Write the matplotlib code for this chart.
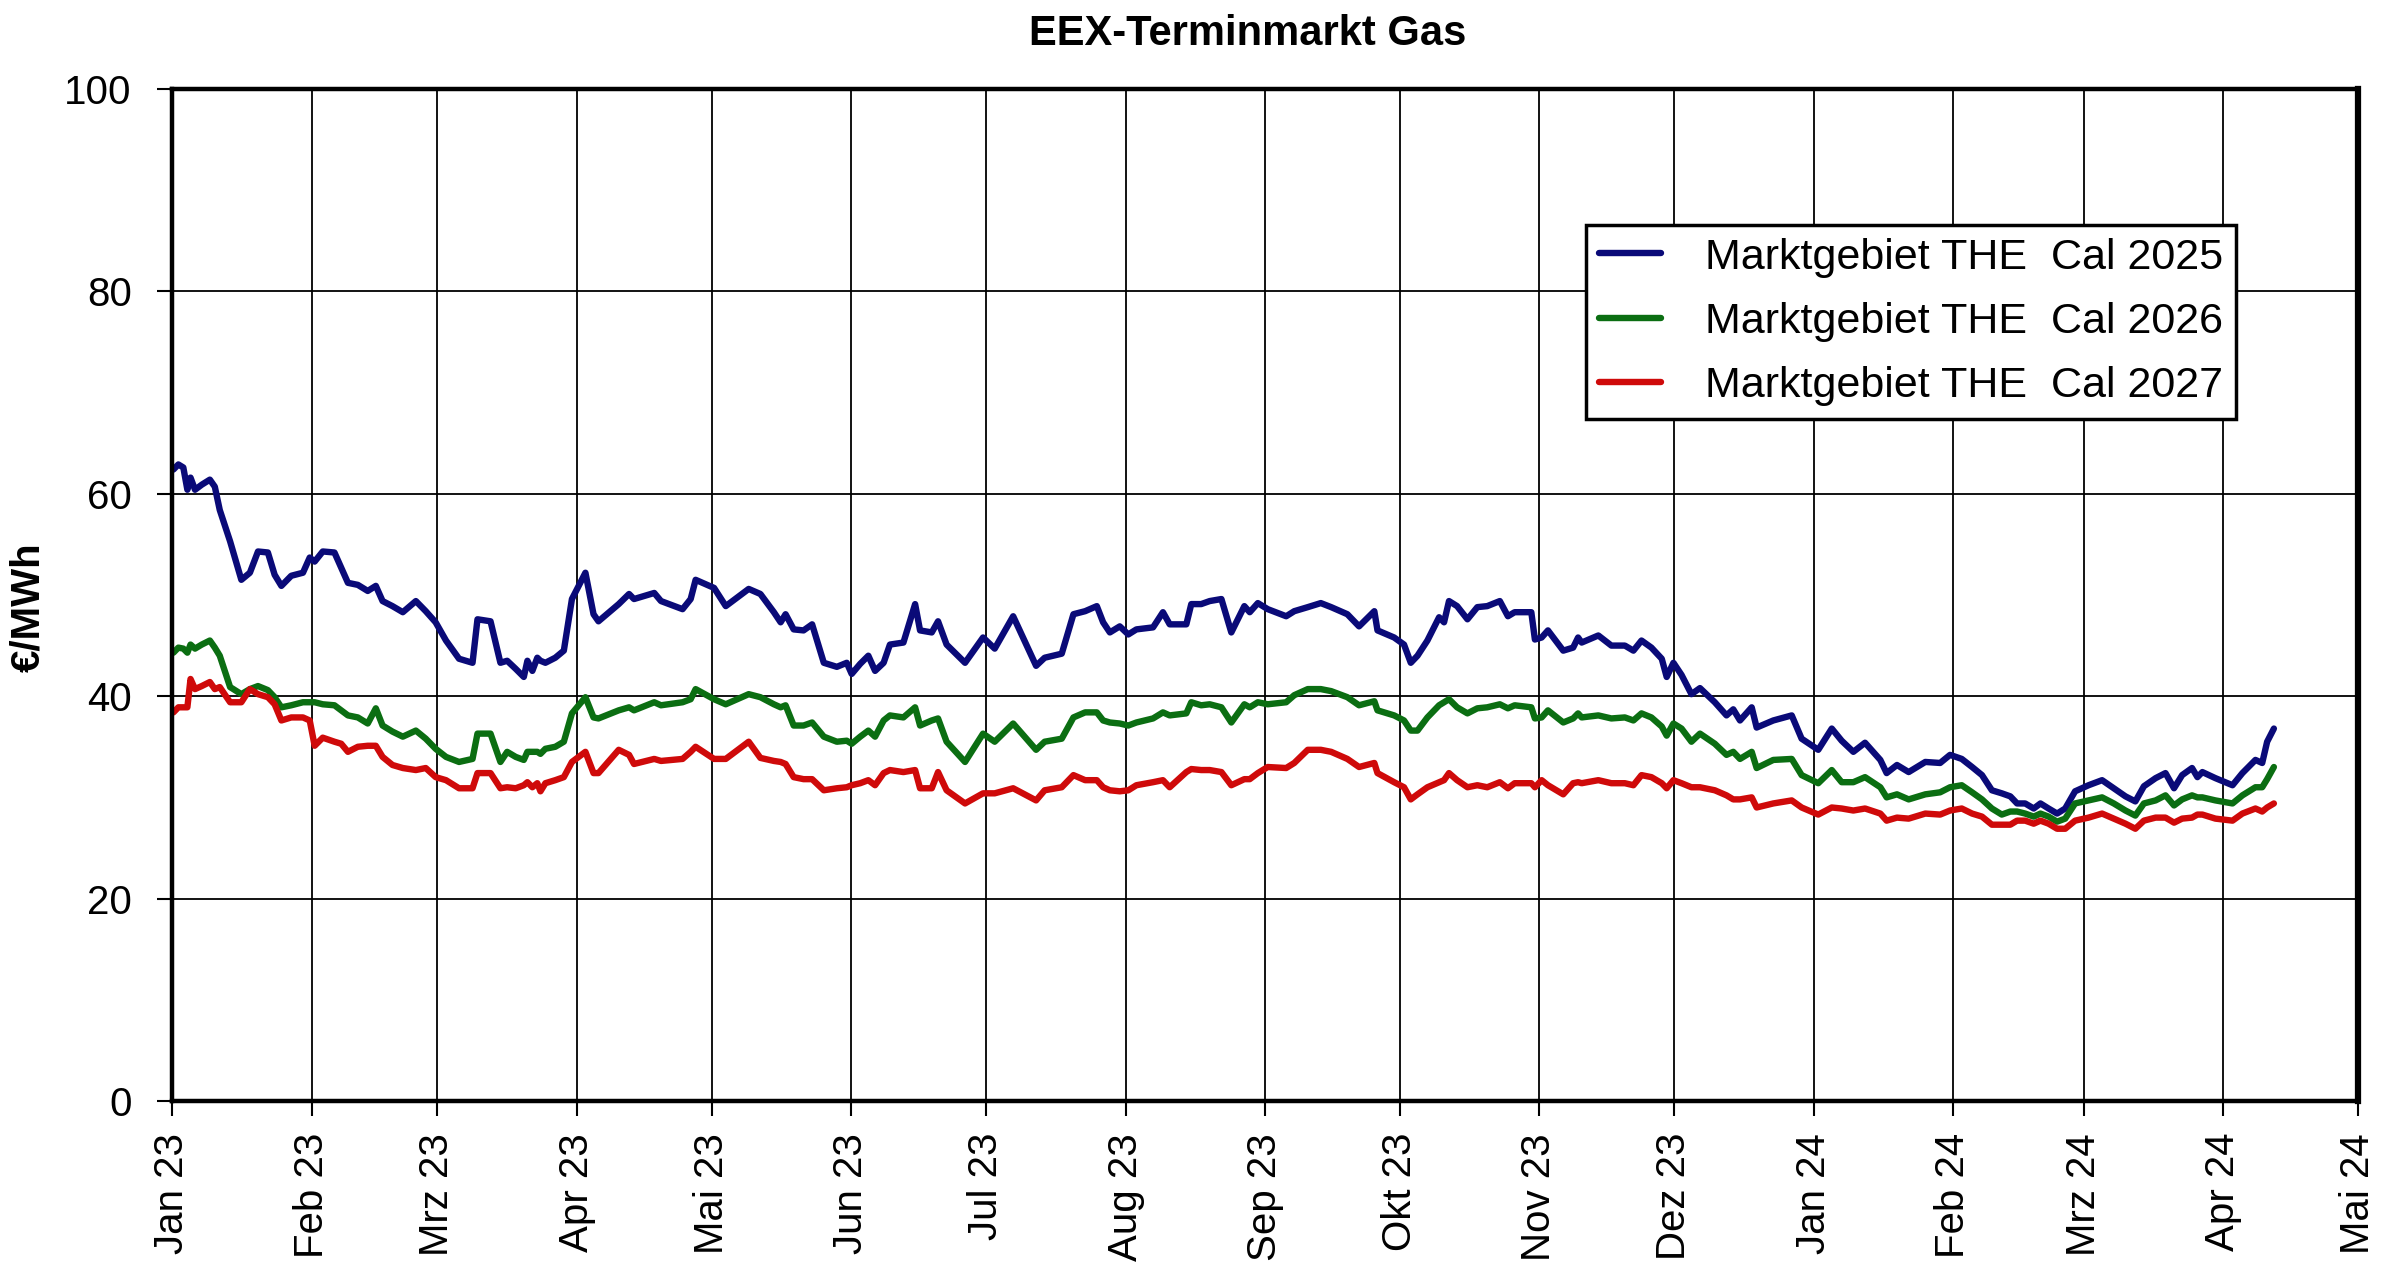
import datetime as dt
import matplotlib
matplotlib.use("Agg")
import matplotlib.pyplot as plt
import matplotlib.dates as mdates

plt.rcParams['font.family'] = ['Liberation Sans', 'DejaVu Sans']

# days since 2023-01-01
days = [0.3, 1.4, 2.5, 3.4, 4.1, 5.1, 6.6, 8.4, 9.5, 10.6, 12.9, 15.4, 17.3, 19.1, 21.3,
        22.8, 24.3, 26.5, 29.1, 30.6, 31.7, 33.5, 36.1, 37.6, 39.1, 41.3, 43.5, 45.3, 46.8,
        49.0, 51.3, 54.2, 56.4, 58.6, 60.9, 63.8, 66.8, 67.9, 70.8, 73.0, 74.5, 76.4, 78.2,
        79.0, 80.1, 81.2, 81.9, 83.0, 85.2, 87.1, 88.9, 91.9, 93.7, 94.8, 99.3,
        101.6, 102.7, 107.2, 108.7, 113.5, 115.3, 116.4, 120.5, 123.1, 128.2, 130.8, 133.8,
        135.3, 136.4, 138.2, 140.4, 142.3, 144.9, 147.8, 150.0, 151.1, 153.0, 154.8, 156.3,
        158.2, 159.6, 162.6, 165.2, 166.3, 168.9, 170.3, 172.2, 176.3, 180.3, 182.9, 187.0,
        192.1, 194.0,
        197.8, 200.4, 203.0, 205.6, 207.0, 208.5, 210.7, 212.6, 214.4, 218.1, 220.3, 221.8,
        225.5, 226.6, 228.8, 230.7, 233.3, 235.5, 238.4, 239.6, 241.4, 243.6, 247.7, 249.5,
        252.5, 255.4, 257.7, 261.3, 263.9, 267.3, 268.0, 271.7, 273.9, 275.4, 276.9, 279.1,
        281.7, 282.8, 283.9, 285.7, 288.0, 290.2, 292.4,
        295.2, 297.0, 298.5, 302.2, 303.0, 304.5, 305.9, 309.3, 311.5, 312.6, 313.4, 317.1,
        320.0, 323.0, 324.9, 326.7, 328.9, 331.2, 332.3, 333.8, 335.6, 337.8, 339.7, 343.0,
        345.6, 347.1, 348.6, 351.2, 352.3, 356.0, 360.1, 362.3, 366.0, 369.0, 371.2, 373.8,
        376.4, 379.8, 381.2, 383.5, 386.1, 389.8, 393.1,
        395.3, 397.9, 400.2, 402.4, 404.6, 406.8, 408.7, 410.2, 412.0, 413.9, 415.4, 417.2,
        419.1, 420.9, 423.1, 426.1, 429.1, 431.7, 434.3, 436.5, 438.4, 441.0, 443.2, 445.1,
        446.9, 449.1, 450.3, 451.4, 454.3, 458.1, 460.3, 463.2, 464.7, 465.8, 467.3]

cal2025 = [62.4, 62.9, 62.6, 60.4, 61.6, 60.4, 60.9, 61.4, 60.7, 58.4, 55.3, 51.5, 52.2, 54.3, 54.2,
           52.0, 50.9, 51.9, 52.2, 53.7, 53.3, 54.3, 54.2, 52.7, 51.2, 51.0, 50.4, 50.9, 49.4,
           48.9, 48.3, 49.4, 48.4, 47.3, 45.5, 43.7, 43.3, 47.6, 47.4, 43.3, 43.5, 42.7, 41.9,
           43.5, 42.5, 43.8, 43.5, 43.3, 43.8, 44.5, 49.6, 52.2, 48.1, 47.4, 49.1,
           50.1, 49.6, 50.2, 49.4, 48.6, 49.6, 51.5, 50.7, 48.9, 50.6, 50.1, 48.3,
           47.3, 48.1, 46.6, 46.5, 47.1, 43.3, 42.9, 43.3, 42.2, 43.2, 44.0, 42.5,
           43.3, 45.1, 45.3, 49.1, 46.5, 46.3, 47.4, 45.1, 43.3, 45.8, 44.7, 47.9,
           43.0, 43.8,
           44.2, 48.1, 48.4, 48.9, 47.3, 46.3, 46.9, 46.1, 46.6, 46.8, 48.3, 47.1,
           47.1, 49.1, 49.1, 49.4, 49.6, 46.3, 48.9, 48.3, 49.2, 48.6, 47.9, 48.4,
           48.8, 49.2, 48.8, 48.1, 46.9, 48.4, 46.5, 45.8, 45.1, 43.3, 44.0, 45.5,
           47.8, 47.3, 49.4, 48.9, 47.6, 48.8, 48.9,
           49.4, 47.9, 48.3, 48.3, 45.6, 45.8, 46.5, 44.5, 44.8, 45.8, 45.3, 46.0,
           45.0, 45.0, 44.5, 45.5, 44.8, 43.7, 41.9, 43.3, 42.1, 40.2, 40.8, 39.4,
           38.1, 38.7, 37.6, 38.9, 36.9, 37.6, 38.1, 35.8, 34.7, 36.8, 35.6, 34.5,
           35.4, 33.7, 32.4, 33.2, 32.5, 33.5, 33.4,
           34.2, 33.8, 33.0, 32.2, 30.7, 30.4, 30.1, 29.4, 29.4, 28.9, 29.4, 28.9,
           28.4, 28.9, 30.6, 31.2, 31.7, 30.9, 30.1, 29.6, 31.1, 31.9, 32.4, 30.9,
           32.2, 32.9, 32.0, 32.5, 31.9, 31.2, 32.4, 33.7, 33.4, 35.5, 36.8]

cal2026 = [44.3, 44.8, 44.7, 44.3, 45.1, 44.7, 45.1, 45.5, 44.8, 44.0, 40.9, 40.2, 40.7, 41.0, 40.6,
           39.9, 38.9, 39.1, 39.4, 39.4, 39.4, 39.2, 39.1, 38.6, 38.1, 37.9, 37.3, 38.8, 37.1,
           36.5, 36.0, 36.6, 35.8, 34.8, 34.0, 33.5, 33.8, 36.3, 36.3, 33.5, 34.5, 34.0, 33.7,
           34.5, 34.5, 34.5, 34.3, 34.8, 35.0, 35.5, 38.3, 39.9, 37.9, 37.8, 38.6,
           38.9, 38.6, 39.4, 39.1, 39.4, 39.7, 40.7, 39.7, 39.2, 40.2, 39.9, 39.2,
           38.9, 39.1, 37.1, 37.1, 37.4, 36.0, 35.5, 35.6, 35.3, 36.0, 36.6, 36.0,
           37.6, 38.1, 37.9, 38.9, 37.1, 37.6, 37.8, 35.5, 33.5, 36.3, 35.5, 37.3,
           34.7, 35.5,
           35.8, 37.9, 38.4, 38.4, 37.6, 37.4, 37.3, 37.1, 37.4, 37.8, 38.4, 38.1,
           38.3, 39.4, 39.1, 39.2, 38.9, 37.4, 39.2, 38.9, 39.4, 39.2, 39.4, 40.1,
           40.7, 40.7, 40.5, 39.9, 39.1, 39.5, 38.6, 38.1, 37.6, 36.6, 36.6, 37.9,
           39.1, 39.4, 39.7, 38.9, 38.3, 38.8, 38.9,
           39.2, 38.8, 39.1, 38.9, 37.8, 37.9, 38.6, 37.4, 37.8, 38.3, 37.9, 38.1,
           37.8, 37.9, 37.6, 38.3, 37.9, 37.0, 36.1, 37.3, 36.8, 35.5, 36.3, 35.3,
           34.2, 34.5, 33.8, 34.5, 32.9, 33.7, 33.8, 32.2, 31.4, 32.7, 31.5, 31.5,
           32.0, 31.0, 30.0, 30.3, 29.8, 30.3, 30.5,
           31.0, 31.2, 30.5, 29.8, 28.9, 28.3, 28.6, 28.6, 28.4, 28.1, 28.4, 28.1,
           27.6, 27.9, 29.4, 29.7, 30.0, 29.4, 28.7, 28.2, 29.4, 29.7, 30.2, 29.2,
           29.8, 30.2, 30.0, 30.0, 29.7, 29.4, 30.2, 31.0, 31.0, 31.8, 33.0]

cal2027 = [38.4, 38.9, 38.9, 38.9, 41.7, 40.7, 41.0, 41.4, 40.7, 40.9, 39.4, 39.4, 40.7, 40.2, 39.9,
           39.2, 37.6, 37.9, 37.9, 37.6, 35.1, 35.9, 35.5, 35.3, 34.5, 35.0, 35.1, 35.1, 34.0,
           33.2, 32.9, 32.7, 32.9, 32.0, 31.7, 30.9, 30.9, 32.4, 32.4, 30.9, 31.0, 30.9, 31.2,
           31.5, 31.0, 31.4, 30.6, 31.4, 31.7, 32.0, 33.5, 34.5, 32.4, 32.4, 34.7,
           34.2, 33.3, 33.8, 33.6, 33.8, 34.5, 35.0, 33.8, 33.8, 35.5, 33.9, 33.6,
           33.5, 33.3, 32.0, 31.8, 31.8, 30.7, 30.9, 31.0, 31.2, 31.4, 31.7, 31.2,
           32.4, 32.7, 32.5, 32.7, 30.9, 30.9, 32.5, 30.7, 29.4, 30.4, 30.4, 30.9,
           29.7, 30.7,
           31.0, 32.2, 31.7, 31.7, 31.0, 30.7, 30.6, 30.7, 31.2, 31.5, 31.7, 31.0,
           32.5, 32.8, 32.7, 32.7, 32.5, 31.2, 31.8, 31.8, 32.4, 33.0, 32.9, 33.4,
           34.7, 34.7, 34.5, 33.8, 33.0, 33.4, 32.4, 31.5, 31.0, 29.8, 30.3, 31.0,
           31.5, 31.7, 32.4, 31.7, 31.0, 31.2, 31.0,
           31.5, 30.9, 31.4, 31.4, 31.0, 31.7, 31.2, 30.3, 31.4, 31.5, 31.4, 31.7,
           31.4, 31.4, 31.2, 32.2, 32.0, 31.4, 30.9, 31.7, 31.4, 31.0, 31.0, 30.7,
           30.2, 29.8, 29.8, 30.0, 29.0, 29.4, 29.7, 29.0, 28.3, 29.0, 28.9, 28.7,
           28.9, 28.4, 27.7, 28.0, 27.9, 28.4, 28.3,
           28.7, 28.9, 28.4, 28.1, 27.3, 27.3, 27.3, 27.7, 27.7, 27.4, 27.7, 27.4,
           26.9, 26.9, 27.7, 28.0, 28.4, 27.9, 27.4, 26.9, 27.7, 28.0, 28.0, 27.5,
           27.9, 28.0, 28.3, 28.3, 27.9, 27.7, 28.4, 28.9, 28.6, 29.0, 29.4]

labels = ['Marktgebiet THE  Cal 2025', 'Marktgebiet THE  Cal 2026', 'Marktgebiet THE  Cal 2027']
colors = ['#0a0a78', '#0b6e12', '#cf0a0a']

month_labels = ['Jan 23', 'Feb 23', 'Mrz 23', 'Apr 23', 'Mai 23', 'Jun 23', 'Jul 23', 'Aug 23',
                'Sep 23', 'Okt 23', 'Nov 23', 'Dez 23', 'Jan 24', 'Feb 24', 'Mrz 24', 'Apr 24',
                'Mai 24']

start = dt.datetime(2023, 1, 1)
x = [start + dt.timedelta(days=d) for d in days]
month_ticks = [dt.datetime(2023 + (i // 12), i % 12 + 1, 1) for i in range(len(month_labels))]

fig = plt.figure(figsize=(24, 12.83), dpi=100)
ax = fig.add_axes([0.0717, 0.1419, 0.9108, 0.7887])

for ys, lab, col in zip([cal2025, cal2026, cal2027], labels, colors):
    ax.plot(x, ys, color=col, lw=4.6, label=lab, solid_joinstyle='round',
            solid_capstyle='round')

ax.set_xlim(month_ticks[0], month_ticks[-1])
ax.set_ylim(0, 100)
ax.set_yticks(range(0, 101, 20))
ax.set_xticks(month_ticks)
ax.set_xticklabels(month_labels, rotation=90)
ax.grid(True, color='black', lw=1.3)
ax.set_axisbelow(True)
ax.tick_params(axis='both', labelsize=29, length=11, width=1.5, direction='out')
ax.tick_params(axis='y', pad=18)
ax.tick_params(axis='x', pad=12)
for s in ax.spines.values():
    s.set_linewidth(3.2)
ax.spines['right'].set_linewidth(4.5)

leg = ax.legend(loc='upper right', bbox_to_anchor=(0.944, 0.866), fontsize=31,
                frameon=True, fancybox=False, edgecolor='black', borderaxespad=0,
                handlelength=1.45, handletextpad=1.0, labelspacing=0.56, borderpad=0.3)
leg.get_frame().set_linewidth(2.5)
leg.get_frame().set_alpha(1)

fig.text(0.52, 0.9735, 'EEX-Terminmarkt Gas', ha='center', va='center',
         fontsize=30, fontweight='bold')
fig.text(0.0117, 0.527, '€/MWh', ha='center', va='center', rotation=90,
         fontsize=29, fontweight='bold')

fig.savefig('out.png', dpi=100)
